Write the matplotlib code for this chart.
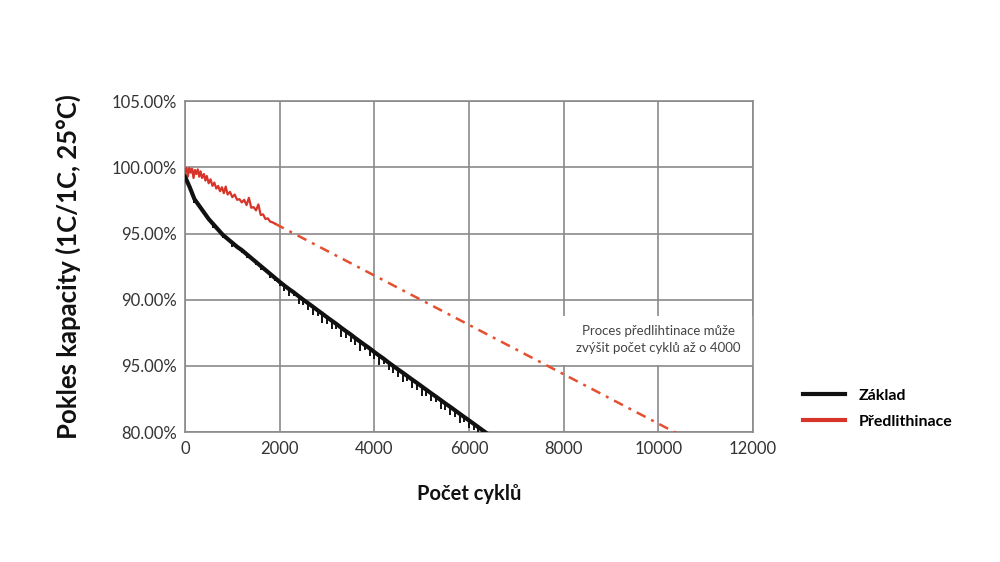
import numpy as np
import matplotlib
matplotlib.use("Agg")
import matplotlib.pyplot as plt
from matplotlib.patches import Rectangle

plt.rcParams['font.family'] = ['Lato', 'DejaVu Sans']

# Základ - hlavní průběh (každých 100 cyklů) a hloubka poklesů (špiček dolů)
zaklad_x = [0, 100, 200, 300, 400, 500, 600, 700, 800, 900,
            1000, 1100, 1200, 1300, 1400, 1500, 1600, 1700, 1800, 1900,
            2000, 2100, 2200, 2300, 2400, 2500, 2600, 2700, 2800, 2900,
            3000, 3100, 3200, 3300, 3400, 3500, 3600, 3700, 3800, 3900,
            4000, 4100, 4200, 4300, 4400, 4500, 4600, 4700, 4800, 4900,
            5000, 5100, 5200, 5300, 5400, 5500, 5600, 5700, 5800, 5900,
            6000, 6100, 6200, 6300, 6400]
zaklad_y = [99.3, 98.5, 97.6, 97.1, 96.6, 96.1, 95.7, 95.3, 94.9, 94.6,
            94.3, 94.0, 93.75, 93.45, 93.15, 92.85, 92.55, 92.25, 91.95, 91.65,
            91.35, 91.07, 90.8, 90.55, 90.27, 90.0, 89.74, 89.48, 89.21, 88.95,
            88.68, 88.42, 88.17, 87.89, 87.63, 87.38, 87.1, 86.84, 86.58, 86.33,
            86.05, 85.79, 85.54, 85.26, 85.0, 84.74, 84.49, 84.23, 83.97, 83.72,
            83.46, 83.2, 82.94, 82.69, 82.43, 82.17, 81.92, 81.66, 81.4, 81.14,
            80.89, 80.63, 80.37, 80.11, 79.85]
zaklad_dip = [0, 0, 0.3, 0, 0.2, 0, 0.3, 0, 0.2, 0,
              0.3, 0, 0.2, 0.3, 0, 0.2, 0.3, 0, 0.3, 0.2,
              0.3, 0.4, 0.5, 0.3, 0.6, 0.4, 0.5, 0.6, 0.4, 0.7,
              0.5, 0.6, 0.4, 0.7, 0.5, 0.6, 0.5, 0.7, 0.4, 0.6,
              0.5, 0.7, 0.4, 0.6, 0.5, 0.6, 0.7, 0.4, 0.6, 0.5,
              0.7, 0.5, 0.6, 0.4, 0.7, 0.5, 0.6, 0.5, 0.7, 0.4,
              0.6, 0.5, 0.6, 0.4, 0]

# Předlithinace - naměřený průběh
predlit_x = [0, 30, 60, 90, 120, 150, 180, 210, 240, 270,
             300, 330, 360, 400, 430, 460, 500, 540, 580, 620,
             660, 700, 740, 780, 820, 860, 900, 950, 1000, 1050,
             1100, 1150, 1200, 1250, 1300, 1350, 1400, 1450, 1500, 1550,
             1600, 1650, 1700, 1750, 1800, 1850, 1900]
predlit_y = [99.6, 99.95, 99.3, 99.95, 99.6, 99.9, 99.2, 99.8, 99.5, 99.85,
             99.3, 99.7, 99.2, 99.5, 99.0, 99.35, 98.8, 99.1, 98.6, 98.85,
             98.4, 98.6, 98.2, 98.5, 98.05, 98.55, 97.95, 98.15, 97.75, 97.95,
             97.55, 97.6, 97.35, 97.55, 97.15, 97.7, 96.95, 97.0, 96.75, 97.2,
             96.4, 96.45, 96.1, 96.15, 95.9, 95.85, 95.75]

# Předlithinace - odhad (extrapolace)
odhad_x = [1900, 10400]
odhad_y = [95.75, 79.9]

y_ticks = [80, 85, 90, 95, 100, 105]
y_labels = ['80.00%', '95.00%', '90.00%', '95.00%', '100.00%', '105.00%']
x_ticks = [0, 2000, 4000, 6000, 8000, 10000, 12000]

fig = plt.figure(figsize=(10, 5.62), dpi=100)
ax = fig.add_axes([0.185, 0.231, 0.568, 0.589])

ax.set_xlim(0, 12000)
ax.set_ylim(80, 105)
ax.set_xticks(x_ticks)
ax.set_yticks(y_ticks)
ax.set_yticklabels(y_labels)
ax.tick_params(length=0, labelsize=12, colors='#333333', pad=6)
ax.grid(True, color='#8a8a8a', linewidth=1.2)
ax.set_axisbelow(True)
for s in ax.spines.values():
    s.set_color('#8a8a8a')
    s.set_linewidth(1.2)

# bílé pole pod poznámkou
ax.add_patch(Rectangle((7900, 85.1), 4100, 3.7, facecolor='white',
                       edgecolor='none', zorder=1.5))
ax.text(10000, 87.0, 'Proces předlihtinace může\nzvýšit počet cyklů až o 4000',
        ha='center', va='center', fontsize=9.5, color='#444444',
        linespacing=1.5, zorder=2)

ax.plot(odhad_x, odhad_y, color='#e4502f', linewidth=1.8,
        dashes=(4, 2.5, 1.2, 2.5), zorder=3)
ax.plot(predlit_x, predlit_y, color='#d8352a', linewidth=1.6, zorder=3)

zx = np.array(zaklad_x)
zy = np.array(zaklad_y)
zd = np.array(zaklad_dip)
m = zd > 0
ax.vlines(zx[m], zy[m] - zd[m], zy[m], color='#111111', linewidth=1.4, zorder=3)
ax.plot(zx, zy, color='#111111', linewidth=3, zorder=4)

ax.set_ylabel('Pokles kapacity (1C/1C, 25°C)', fontsize=18.5, fontweight='bold',
              color='#111111', labelpad=22)
ax.set_xlabel('Počet cyklů', fontsize=14.5, fontweight='bold',
              color='#111111', labelpad=20)

ax.plot([], [], color='#111111', linewidth=3, label='Základ')
ax.plot([], [], color='#d8352a', linewidth=3, label='Předlithinace')
handles, labels = ax.get_legend_handles_labels()
ax.legend(handles[-2:], labels[-2:], loc='upper left',
          bbox_to_anchor=(0.803, 0.309), bbox_transform=fig.transFigure,
          frameon=False, borderpad=0, borderaxespad=0, handlelength=2.6,
          handletextpad=0.9, labelspacing=0.75,
          prop={'size': 11.5, 'weight': 'bold'})

fig.savefig('out.png', dpi=100, facecolor='white')
